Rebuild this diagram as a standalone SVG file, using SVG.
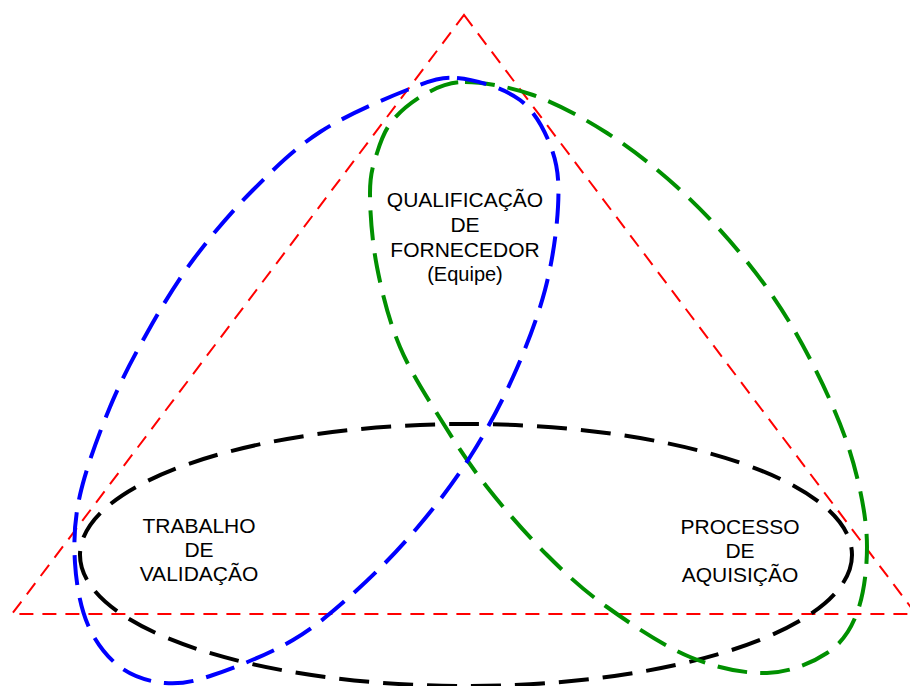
<svg xmlns="http://www.w3.org/2000/svg" width="910" height="686" viewBox="0 0 910 686">
<style>
  .bg { fill: #ffffff; }
  .tri { fill: none; stroke: #ff0000; stroke-width: 2; stroke-dasharray: 14 9; }
  .blue { fill: none; stroke: #0000ff; stroke-width: 4; stroke-dasharray: 30 13; }
  .green { fill: none; stroke: #009000; stroke-width: 4; stroke-dasharray: 30 13; }
  .black { fill: none; stroke: #000000; stroke-width: 4; stroke-dasharray: 30 14; }
  .lbl { font-family: "Liberation Sans", Arial, sans-serif; font-size: 21px; fill: #000000; text-anchor: middle; }
  .small { font-size: 20px; }
</style>
<rect class="bg" x="0" y="0" width="910" height="686"/>
<g id="triangle">
  <polygon class="tri" points="464,15 916,614 12,614"/>
</g>
<g id="ellipse-validacao-aquisicao">
  <ellipse class="black" cx="466" cy="555" rx="386" ry="131"/>
</g>
<g id="loop-green">
  <path class="green" d="M465,82 C482.7,82.3 509.3,86.5 533,95 C556.7,103.5 583,117.7 607,133 C631,148.3 654.8,167 677,187 C699.2,207 721.2,230.3 740,253 C758.8,275.7 774.5,297.3 790,323 C805.5,348.7 821.8,381.3 833,407 C844.2,432.7 851.3,453.7 857,477 C862.7,500.3 867,524.3 867,547 C867,569.7 863.7,595.3 857,613 C850.3,630.7 842,643 827,653 C812,663 789.8,672.3 767,673 C744.2,673.7 716.7,668 690,657 C663.3,646 630.8,624 607,607 C583.2,590 567,575 547,555 C527,535 504.3,509 487,487 C469.7,465 457.5,446.3 443,423 C428.5,399.7 411,373 400,347 C389,321 382,292.7 377,267 C372,241.3 370,212 370,193 C370,174 373.2,165.2 377,153 C380.8,140.8 384.7,130 393,120 C401.3,110 415,99.3 427,93 C439,86.7 447.3,82.3 465,82 Z"/>
</g>
<g id="loop-blue">
  <path class="blue" d="M457,78 C475.8,79.7 504.2,88 520,100 C535.8,112 545.7,132.2 552,150 C558.3,167.8 559.2,183.7 558,207 C556.8,230.3 552.5,261.7 545,290 C537.5,318.3 525.5,349.2 513,377 C500.5,404.8 486,431.8 470,457 C454,482.2 435.8,505.8 417,528 C398.2,550.2 377.7,571.3 357,590 C336.3,608.7 317,625.8 293,640 C269,654.2 234.3,667.8 213,675 C191.7,682.2 180.5,684.3 165,683 C149.5,681.7 132.8,676.7 120,667 C107.2,657.3 95.5,642.3 88,625 C80.5,607.7 76.3,584.7 75,563 C73.7,541.3 74.2,521 80,495 C85.8,469 98.8,434 110,407 C121.2,380 133.2,357.5 147,333 C160.8,308.5 175.3,283.8 193,260 C210.7,236.2 231.8,211.3 253,190 C274.2,168.7 294.3,148.7 320,132 C345.7,115.3 384.2,99 407,90 C429.8,81 438.2,76.3 457,78 Z"/>
</g>
<g id="label-qualificacao">
  <text class="lbl" x="465" y="207">QUALIFICAÇÃO</text>
  <text class="lbl" x="465" y="232">DE</text>
  <text class="lbl" x="465" y="257">FORNECEDOR</text>
  <text class="lbl small" x="465" y="281">(Equipe)</text>
</g>
<g id="label-validacao">
  <text class="lbl" x="199" y="533">TRABALHO</text>
  <text class="lbl" x="199" y="557">DE</text>
  <text class="lbl" x="199" y="581">VALIDAÇÃO</text>
</g>
<g id="label-aquisicao">
  <text class="lbl" x="740" y="534">PROCESSO</text>
  <text class="lbl" x="740" y="558">DE</text>
  <text class="lbl" x="740" y="582">AQUISIÇÃO</text>
</g>
</svg>
